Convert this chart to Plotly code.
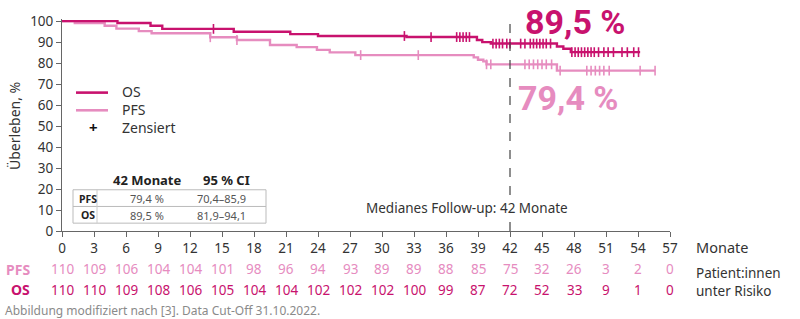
import numpy as np
import plotly.graph_objects as go

# ---------------- data ----------------
os_t = [0, 5.2, 8.3, 9.4, 16.1, 21.4, 24.0, 32.3, 38.9, 39.4, 40.2, 46.4, 47.0, 47.7, 54.2]
os_s = [100, 99.1, 97.8, 96.3, 94.9, 93.8, 92.9, 92.4, 91.0, 90.0, 89.3, 87.9, 86.8, 85.2, 85.2]
os_cens = [14.2, 32.1, 34.6, 37.0, 37.3, 37.6, 37.9, 38.2, 40.4, 40.7, 41.0, 41.3, 41.7, 42.0,
           43.0, 43.4, 43.9, 44.2, 44.5, 44.8, 45.1, 45.4, 45.8, 47.8, 48.1, 48.4, 48.7, 49.0,
           49.3, 49.6, 49.9, 50.3, 50.8, 51.2, 51.7, 52.5, 53.0, 53.6, 54.05]

pfs_t = [0, 1.2, 4.0, 5.1, 7.2, 8.4, 13.9, 16.4, 19.5, 22.0, 23.9, 25.1, 27.5, 38.6, 39.0, 39.5, 39.8, 46.4, 55.6]
pfs_s = [100, 99.1, 97.8, 96.4, 95.2, 94.2, 92.3, 91.0, 88.6, 87.6, 86.3, 85.1, 83.8, 82.7, 81.6, 80.8, 79.4, 76.4, 76.4]
pfs_cens = [13.9, 16.4, 28.0, 33.4, 39.8, 40.2, 43.4, 43.8, 44.2, 44.6, 45.0, 45.4, 45.9,
            46.7, 49.2, 49.6, 50.0, 50.4, 50.8, 51.3, 54.2, 55.6]

months = list(range(0, 58, 3))
risk_pfs = [110, 109, 106, 104, 104, 101, 98, 96, 94, 93, 89, 89, 88, 85, 75, 32, 26, 3, 2, 0]
risk_os = [110, 110, 109, 108, 106, 105, 104, 104, 102, 102, 102, 100, 99, 87, 72, 52, 33, 9, 1, 0]

median_fu = 42
label_os = "89,5 %"
label_pfs = "79,4 %"

table_header = ["42 Monate", "95 % CI"]
table_rows = [["PFS", "79,4 %", "70,4–85,9"], ["OS", "89,5 %", "81,9–94,1"]]

# ---------------- styles ----------------
C_OS = "#C8126E"
C_PFS = "#E68CBF"
TXT = "#333333"
FONT = "Noto Sans, Open Sans, sans-serif"
BIG = "Roboto, Liberation Sans, sans-serif"

W, H = 800, 319
ML, MR, MT, MB = 62, 130, 15, 88
PW = W - ML - MR
PH = H - MT - MB


def px(x):
    return (x - ML) / PW


def py(y):
    return (H - MB - y) / PH


def step_at(ts, ss, t):
    i = np.searchsorted(np.array(ts), t, side="right") - 1
    return ss[max(i, 0)]


fig = go.Figure()

for t, s, cens, col in [(pfs_t, pfs_s, pfs_cens, C_PFS), (os_t, os_s, os_cens, C_OS)]:
    fig.add_trace(go.Scatter(x=t, y=s, mode="lines", line=dict(color=col, width=2.4, shape="hv"),
                             showlegend=False, hoverinfo="skip"))
    fig.add_trace(go.Scatter(x=cens, y=[step_at(t, s, c) for c in cens], mode="markers",
                             marker=dict(symbol="line-ns", size=7, line=dict(color=col, width=1.6)),
                             showlegend=False, hoverinfo="skip"))

shapes = []
ann = []

# median follow-up dashed line
shapes.append(dict(type="line", xref="x", yref="paper", x0=median_fu, x1=median_fu, y0=0, y1=1.0,
                   line=dict(color="#444444", width=1.2, dash="dash")))
ann.append(dict(x=38.0, y=11, xref="x", yref="y", text="Medianes Follow-up: 42 Monate",
                showarrow=False, font=dict(family=FONT, size=13.5, color=TXT), bgcolor="white",
                xanchor="center", yanchor="middle"))

# big labels
ann.append(dict(x=px(575), y=py(18), xref="paper", yref="paper", text="<b>" + label_os + "</b>",
                showarrow=False, font=dict(family=BIG, size=34, color=C_OS), xanchor="center", yanchor="middle"))
ann.append(dict(x=px(568), y=py(95), xref="paper", yref="paper", text="<b>" + label_pfs + "</b>",
                showarrow=False, font=dict(family=BIG, size=34, color=C_PFS), xanchor="center", yanchor="middle"))

# legend (manual)
for yy, col in [(90, C_OS), (108, C_PFS)]:
    shapes.append(dict(type="line", xref="paper", yref="paper", x0=px(76), x1=px(108), y0=py(yy), y1=py(yy),
                       line=dict(color=col, width=2.6)))
ann.append(dict(x=px(93), y=py(125), xref="paper", yref="paper", text="<b>+</b>", showarrow=False,
                font=dict(family=FONT, size=15, color="#111111"), xanchor="center", yanchor="middle"))
ann.append(dict(x=px(120), y=py(107.5), xref="paper", yref="paper", text="OS<br>PFS<br>Zensiert", showarrow=False,
                align="left", font=dict(family=FONT, size=14, color=TXT), xanchor="left", yanchor="middle"))

# table
shapes.append(dict(type="rect", xref="paper", yref="paper", x0=px(73), x1=px(266), y0=py(223), y1=py(189),
                   line=dict(color="#BBBBBB", width=1), fillcolor="white", layer="below"))
shapes.append(dict(type="line", xref="paper", yref="paper", x0=px(73), x1=px(266), y0=py(206), y1=py(206),
                   line=dict(color="#BBBBBB", width=1)))
shapes.append(dict(type="line", xref="paper", yref="paper", x0=px(97), x1=px(97), y0=py(189), y1=py(223),
                   line=dict(color="#CCCCCC", width=1)))
for txt, xx in zip(table_header, [147, 226]):
    ann.append(dict(x=px(xx), y=py(179), xref="paper", yref="paper", text="<b>" + txt + "</b>", showarrow=False,
                    font=dict(family=FONT, size=13, color="#222222"), xanchor="center", yanchor="middle"))
for row, yy in zip(table_rows, [198, 215]):
    ann.append(dict(x=px(88), y=py(yy), xref="paper", yref="paper", text="<b>" + row[0] + "</b>", showarrow=False,
                    font=dict(family=FONT, size=10.5, color="#222222"), xanchor="center", yanchor="middle"))
    for txt, xx in zip(row[1:], [147, 221]):
        ann.append(dict(x=px(xx), y=py(yy), xref="paper", yref="paper", text=txt, showarrow=False,
                        font=dict(family=FONT, size=11, color="#555555"), xanchor="center", yanchor="middle"))

# risk table
for vals, col, lab, yy in [(risk_pfs, C_PFS, "PFS", 270), (risk_os, C_OS, "OS", 291)]:
    for m, v in zip(months, vals):
        ann.append(dict(x=m, y=py(yy), xref="x", yref="paper", text=str(v), showarrow=False,
                        font=dict(family=FONT, size=13.5, color=col), xanchor="center", yanchor="middle"))
    ann.append(dict(x=px(32), y=py(yy), xref="paper", yref="paper", text="<b>" + lab + "</b>", showarrow=False,
                    font=dict(family=FONT, size=14, color=col), xanchor="right", yanchor="middle"))

ann.append(dict(x=px(694), y=py(247), xref="paper", yref="paper", text="Monate", showarrow=False,
                font=dict(family=FONT, size=14.5, color=TXT), xanchor="left", yanchor="middle"))
ann.append(dict(x=px(694), y=py(283), xref="paper", yref="paper", text="Patient:innen<br>unter Risiko",
                showarrow=False, align="left",
                font=dict(family=FONT, size=13.5, color=TXT), xanchor="left", yanchor="middle"))
ann.append(dict(x=px(3), y=py(312), xref="paper", yref="paper",
                text="Abbildung modifiziert nach [3]. Data Cut-Off 31.10.2022.", showarrow=False,
                font=dict(family=FONT, size=12, color="#8A8A8A"), xanchor="left", yanchor="middle"))
ann.append(dict(x=px(15), y=py(124), xref="paper", yref="paper", text="Überleben, %", showarrow=False,
                textangle=-90, font=dict(family=FONT, size=14, color=TXT), xanchor="center", yanchor="middle"))

fig.update_layout(
    width=W, height=H, margin=dict(l=ML, r=MR, t=MT, b=MB),
    paper_bgcolor="white", plot_bgcolor="white",
    shapes=shapes, annotations=ann, showlegend=False,
    font=dict(family=FONT, color=TXT),
    xaxis=dict(range=[0, 57], tickvals=months, ticks="outside", ticklen=5, tickcolor="#666666",
               showline=True, linecolor="#666666", linewidth=1, showgrid=False, zeroline=False,
               tickfont=dict(family=FONT, size=13.5, color=TXT)),
    yaxis=dict(range=[0, 101], tickvals=list(range(0, 101, 10)), ticks="outside", ticklen=5,
               tickcolor="#666666", showline=True, linecolor="#666666", linewidth=1, showgrid=False,
               zeroline=False, tickfont=dict(family=FONT, size=13.5, color=TXT)),
)

fig.write_html("out.html")
